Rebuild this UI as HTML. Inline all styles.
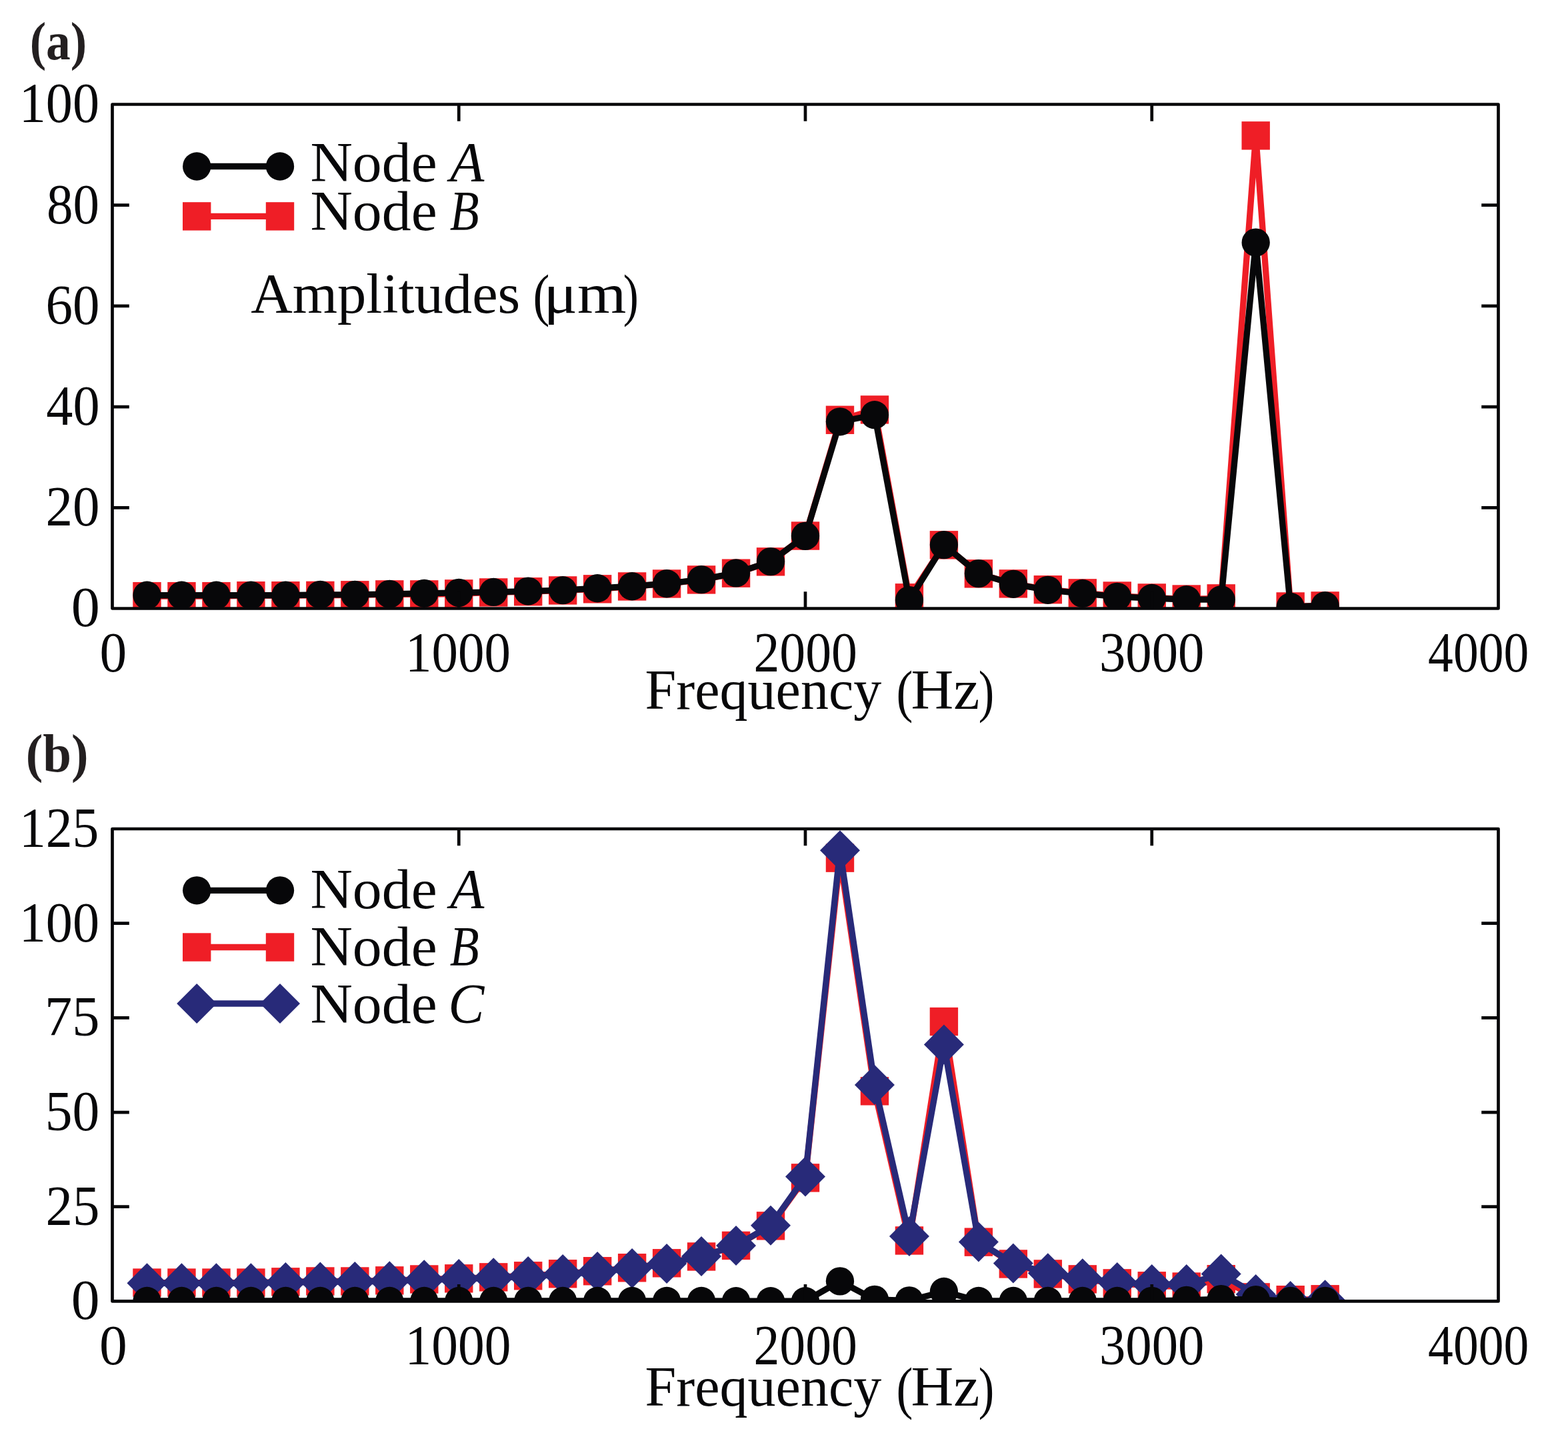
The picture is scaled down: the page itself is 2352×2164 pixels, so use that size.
<!DOCTYPE html>
<html><head><meta charset="utf-8"><title>Amplitudes vs Frequency</title>
<style>html,body{margin:0;padding:0;background:#fff;overflow:hidden;}svg{display:block;}</style></head>
<body>
<svg width="2352" height="2164" viewBox="0 0 2352 2164" font-family="'Liberation Serif', 'DejaVu Serif', serif">
<rect width="2352" height="2164" fill="#ffffff"/>
<defs>
<clipPath id="ca"><rect x="168.5" y="156.5" width="2079.0" height="756"/></clipPath>
<clipPath id="cb"><rect x="168.5" y="1243.0" width="2079.0" height="708.4"/></clipPath>
</defs>
<g clip-path="url(#ca)">
<polyline points="220.47,894.13 272.45,894.13 324.43,894.13 376.4,893.22 428.38,893.22 480.35,892.92 532.33,892.31 584.3,891.41 636.27,891.41 688.25,890.35 740.23,888.46 792.2,887.25 844.17,885.44 896.15,883.32 948.12,879.46 1000.1,875.46 1052.08,869.41 1104.05,859.66 1156.03,842.34 1208,803.56 1259.97,629.76 1311.95,614.41 1363.92,896.32 1415.9,817.32 1467.88,860.34 1519.85,875.38 1571.83,884.23 1623.8,889.37 1675.78,893.52 1727.75,896.47 1779.72,898.51 1831.7,897.38 1883.67,203.37 1935.65,909.48 1987.62,908.42" fill="none" stroke="#EF1E26" stroke-width="9.3" stroke-linejoin="round" stroke-linecap="butt"/>
<rect x="199.28" y="872.93" width="42.4" height="42.4" fill="#EF1E26"/>
<rect x="251.25" y="872.93" width="42.4" height="42.4" fill="#EF1E26"/>
<rect x="303.23" y="872.93" width="42.4" height="42.4" fill="#EF1E26"/>
<rect x="355.2" y="872.02" width="42.4" height="42.4" fill="#EF1E26"/>
<rect x="407.18" y="872.02" width="42.4" height="42.4" fill="#EF1E26"/>
<rect x="459.15" y="871.72" width="42.4" height="42.4" fill="#EF1E26"/>
<rect x="511.13" y="871.11" width="42.4" height="42.4" fill="#EF1E26"/>
<rect x="563.1" y="870.21" width="42.4" height="42.4" fill="#EF1E26"/>
<rect x="615.07" y="870.21" width="42.4" height="42.4" fill="#EF1E26"/>
<rect x="667.05" y="869.15" width="42.4" height="42.4" fill="#EF1E26"/>
<rect x="719.02" y="867.26" width="42.4" height="42.4" fill="#EF1E26"/>
<rect x="771" y="866.05" width="42.4" height="42.4" fill="#EF1E26"/>
<rect x="822.97" y="864.24" width="42.4" height="42.4" fill="#EF1E26"/>
<rect x="874.95" y="862.12" width="42.4" height="42.4" fill="#EF1E26"/>
<rect x="926.92" y="858.26" width="42.4" height="42.4" fill="#EF1E26"/>
<rect x="978.9" y="854.26" width="42.4" height="42.4" fill="#EF1E26"/>
<rect x="1030.88" y="848.21" width="42.4" height="42.4" fill="#EF1E26"/>
<rect x="1082.85" y="838.46" width="42.4" height="42.4" fill="#EF1E26"/>
<rect x="1134.83" y="821.14" width="42.4" height="42.4" fill="#EF1E26"/>
<rect x="1186.8" y="782.36" width="42.4" height="42.4" fill="#EF1E26"/>
<rect x="1238.77" y="608.56" width="42.4" height="42.4" fill="#EF1E26"/>
<rect x="1290.75" y="593.21" width="42.4" height="42.4" fill="#EF1E26"/>
<rect x="1342.72" y="875.12" width="42.4" height="42.4" fill="#EF1E26"/>
<rect x="1394.7" y="796.12" width="42.4" height="42.4" fill="#EF1E26"/>
<rect x="1446.67" y="839.14" width="42.4" height="42.4" fill="#EF1E26"/>
<rect x="1498.65" y="854.18" width="42.4" height="42.4" fill="#EF1E26"/>
<rect x="1550.62" y="863.03" width="42.4" height="42.4" fill="#EF1E26"/>
<rect x="1602.6" y="868.17" width="42.4" height="42.4" fill="#EF1E26"/>
<rect x="1654.58" y="872.32" width="42.4" height="42.4" fill="#EF1E26"/>
<rect x="1706.55" y="875.27" width="42.4" height="42.4" fill="#EF1E26"/>
<rect x="1758.52" y="877.31" width="42.4" height="42.4" fill="#EF1E26"/>
<rect x="1810.5" y="876.18" width="42.4" height="42.4" fill="#EF1E26"/>
<rect x="1862.47" y="182.17" width="42.4" height="42.4" fill="#EF1E26"/>
<rect x="1914.45" y="888.28" width="42.4" height="42.4" fill="#EF1E26"/>
<rect x="1966.42" y="887.22" width="42.4" height="42.4" fill="#EF1E26"/>
<polyline points="220.47,892.77 272.45,892.77 324.43,892.77 376.4,892.77 428.38,892.77 480.35,891.79 532.33,891.79 584.3,890.88 636.27,889.82 688.25,888.91 740.23,887.93 792.2,886.57 844.17,885.21 896.15,882.26 948.12,879.24 1000.1,875.23 1052.08,869.18 1104.05,859.43 1156.03,842.12 1208,803.86 1259.97,632.33 1311.95,622.2 1363.92,900.03 1415.9,817.09 1467.88,860.11 1519.85,875.83 1571.83,884.83 1623.8,889.97 1675.78,894.81 1727.75,897 1779.72,899.19 1831.7,899.19 1883.67,363.64 1935.65,910.01 1987.62,908.19" fill="none" stroke="#070709" stroke-width="9.3" stroke-linejoin="round" stroke-linecap="butt"/>
<circle cx="220.47" cy="892.77" r="21.15" fill="#070709"/>
<circle cx="272.45" cy="892.77" r="21.15" fill="#070709"/>
<circle cx="324.43" cy="892.77" r="21.15" fill="#070709"/>
<circle cx="376.4" cy="892.77" r="21.15" fill="#070709"/>
<circle cx="428.38" cy="892.77" r="21.15" fill="#070709"/>
<circle cx="480.35" cy="891.79" r="21.15" fill="#070709"/>
<circle cx="532.33" cy="891.79" r="21.15" fill="#070709"/>
<circle cx="584.3" cy="890.88" r="21.15" fill="#070709"/>
<circle cx="636.27" cy="889.82" r="21.15" fill="#070709"/>
<circle cx="688.25" cy="888.91" r="21.15" fill="#070709"/>
<circle cx="740.23" cy="887.93" r="21.15" fill="#070709"/>
<circle cx="792.2" cy="886.57" r="21.15" fill="#070709"/>
<circle cx="844.17" cy="885.21" r="21.15" fill="#070709"/>
<circle cx="896.15" cy="882.26" r="21.15" fill="#070709"/>
<circle cx="948.12" cy="879.24" r="21.15" fill="#070709"/>
<circle cx="1000.1" cy="875.23" r="21.15" fill="#070709"/>
<circle cx="1052.08" cy="869.18" r="21.15" fill="#070709"/>
<circle cx="1104.05" cy="859.43" r="21.15" fill="#070709"/>
<circle cx="1156.03" cy="842.12" r="21.15" fill="#070709"/>
<circle cx="1208" cy="803.86" r="21.15" fill="#070709"/>
<circle cx="1259.97" cy="632.33" r="21.15" fill="#070709"/>
<circle cx="1311.95" cy="622.2" r="21.15" fill="#070709"/>
<circle cx="1363.92" cy="900.03" r="21.15" fill="#070709"/>
<circle cx="1415.9" cy="817.09" r="21.15" fill="#070709"/>
<circle cx="1467.88" cy="860.11" r="21.15" fill="#070709"/>
<circle cx="1519.85" cy="875.83" r="21.15" fill="#070709"/>
<circle cx="1571.83" cy="884.83" r="21.15" fill="#070709"/>
<circle cx="1623.8" cy="889.97" r="21.15" fill="#070709"/>
<circle cx="1675.78" cy="894.81" r="21.15" fill="#070709"/>
<circle cx="1727.75" cy="897" r="21.15" fill="#070709"/>
<circle cx="1779.72" cy="899.19" r="21.15" fill="#070709"/>
<circle cx="1831.7" cy="899.19" r="21.15" fill="#070709"/>
<circle cx="1883.67" cy="363.64" r="21.15" fill="#070709"/>
<circle cx="1935.65" cy="910.01" r="21.15" fill="#070709"/>
<circle cx="1987.62" cy="908.19" r="21.15" fill="#070709"/>
</g>
<rect x="168.5" y="156.5" width="2079.0" height="756" fill="none" stroke="#070709" stroke-width="4.7" stroke-linejoin="round"/>
<path d="M688.25,912.5V887.2M688.25,156.5V181.8M1208,912.5V887.2M1208,156.5V181.8M1727.75,912.5V887.2M1727.75,156.5V181.8M168.5,761.3H193.8M2247.5,761.3H2222.2M168.5,610.1H193.8M2247.5,610.1H2222.2M168.5,458.9H193.8M2247.5,458.9H2222.2M168.5,307.7H193.8M2247.5,307.7H2222.2" stroke="#070709" stroke-width="4.7" fill="none"/>
<g clip-path="url(#cb)">
<polyline points="220.47,1923.57 272.45,1923.57 324.43,1923.57 376.4,1923.57 428.38,1922.33 480.35,1921.48 532.33,1921.48 584.3,1920.34 636.27,1918.47 688.25,1917.34 740.23,1915.36 792.2,1913.26 844.17,1910.26 896.15,1906.23 948.12,1901.25 1000.1,1894.27 1052.08,1884.47 1104.05,1867.92 1156.03,1838.34 1208,1766.37 1259.97,1286.64 1311.95,1636.3 1363.92,1860.44 1415.9,1532.03 1467.88,1862.65 1519.85,1895.46 1571.83,1910.43 1623.8,1918.36 1675.78,1924.37 1727.75,1928.28 1779.72,1929.52 1831.7,1918.19 1883.67,1945.39 1935.65,1949.19 1987.62,1948.28" fill="none" stroke="#EF1E26" stroke-width="9.3" stroke-linejoin="round" stroke-linecap="butt"/>
<rect x="199.28" y="1902.37" width="42.4" height="42.4" fill="#EF1E26"/>
<rect x="251.25" y="1902.37" width="42.4" height="42.4" fill="#EF1E26"/>
<rect x="303.23" y="1902.37" width="42.4" height="42.4" fill="#EF1E26"/>
<rect x="355.2" y="1902.37" width="42.4" height="42.4" fill="#EF1E26"/>
<rect x="407.18" y="1901.13" width="42.4" height="42.4" fill="#EF1E26"/>
<rect x="459.15" y="1900.28" width="42.4" height="42.4" fill="#EF1E26"/>
<rect x="511.13" y="1900.28" width="42.4" height="42.4" fill="#EF1E26"/>
<rect x="563.1" y="1899.14" width="42.4" height="42.4" fill="#EF1E26"/>
<rect x="615.07" y="1897.27" width="42.4" height="42.4" fill="#EF1E26"/>
<rect x="667.05" y="1896.14" width="42.4" height="42.4" fill="#EF1E26"/>
<rect x="719.02" y="1894.16" width="42.4" height="42.4" fill="#EF1E26"/>
<rect x="771" y="1892.06" width="42.4" height="42.4" fill="#EF1E26"/>
<rect x="822.97" y="1889.06" width="42.4" height="42.4" fill="#EF1E26"/>
<rect x="874.95" y="1885.03" width="42.4" height="42.4" fill="#EF1E26"/>
<rect x="926.92" y="1880.05" width="42.4" height="42.4" fill="#EF1E26"/>
<rect x="978.9" y="1873.07" width="42.4" height="42.4" fill="#EF1E26"/>
<rect x="1030.88" y="1863.27" width="42.4" height="42.4" fill="#EF1E26"/>
<rect x="1082.85" y="1846.72" width="42.4" height="42.4" fill="#EF1E26"/>
<rect x="1134.83" y="1817.14" width="42.4" height="42.4" fill="#EF1E26"/>
<rect x="1186.8" y="1745.17" width="42.4" height="42.4" fill="#EF1E26"/>
<rect x="1238.77" y="1265.44" width="42.4" height="42.4" fill="#EF1E26"/>
<rect x="1290.75" y="1615.1" width="42.4" height="42.4" fill="#EF1E26"/>
<rect x="1342.72" y="1839.24" width="42.4" height="42.4" fill="#EF1E26"/>
<rect x="1394.7" y="1510.83" width="42.4" height="42.4" fill="#EF1E26"/>
<rect x="1446.67" y="1841.45" width="42.4" height="42.4" fill="#EF1E26"/>
<rect x="1498.65" y="1874.26" width="42.4" height="42.4" fill="#EF1E26"/>
<rect x="1550.62" y="1889.23" width="42.4" height="42.4" fill="#EF1E26"/>
<rect x="1602.6" y="1897.16" width="42.4" height="42.4" fill="#EF1E26"/>
<rect x="1654.58" y="1903.17" width="42.4" height="42.4" fill="#EF1E26"/>
<rect x="1706.55" y="1907.08" width="42.4" height="42.4" fill="#EF1E26"/>
<rect x="1758.52" y="1908.32" width="42.4" height="42.4" fill="#EF1E26"/>
<rect x="1810.5" y="1896.99" width="42.4" height="42.4" fill="#EF1E26"/>
<rect x="1862.47" y="1924.19" width="42.4" height="42.4" fill="#EF1E26"/>
<rect x="1914.45" y="1927.99" width="42.4" height="42.4" fill="#EF1E26"/>
<rect x="1966.42" y="1927.08" width="42.4" height="42.4" fill="#EF1E26"/>
<polyline points="220.47,1924.31 272.45,1924.31 324.43,1924.31 376.4,1924.31 428.38,1923.12 480.35,1922.5 532.33,1921.99 584.3,1921.19 636.27,1919.32 688.25,1918.08 740.23,1916.26 792.2,1914.11 844.17,1911.11 896.15,1907.08 948.12,1902.1 1000.1,1895.12 1052.08,1883.9 1104.05,1868.09 1156.03,1837.72 1208,1764.5 1259.97,1275.3 1311.95,1626.9 1363.92,1853.98 1415.9,1566.6 1467.88,1862.42 1519.85,1894.5 1571.83,1909.18 1623.8,1917.23 1675.78,1922.89 1727.75,1926.12 1779.72,1926.12 1831.7,1910.48 1883.67,1940.92 1935.65,1951 1987.62,1949.3" fill="none" stroke="#282A79" stroke-width="9.3" stroke-linejoin="round" stroke-linecap="butt"/>
<polygon points="220.47,1894.31 250.47,1924.31 220.47,1954.31 190.47,1924.31" fill="#282A79"/>
<polygon points="272.45,1894.31 302.45,1924.31 272.45,1954.31 242.45,1924.31" fill="#282A79"/>
<polygon points="324.43,1894.31 354.43,1924.31 324.43,1954.31 294.43,1924.31" fill="#282A79"/>
<polygon points="376.4,1894.31 406.4,1924.31 376.4,1954.31 346.4,1924.31" fill="#282A79"/>
<polygon points="428.38,1893.12 458.38,1923.12 428.38,1953.12 398.38,1923.12" fill="#282A79"/>
<polygon points="480.35,1892.5 510.35,1922.5 480.35,1952.5 450.35,1922.5" fill="#282A79"/>
<polygon points="532.33,1891.99 562.33,1921.99 532.33,1951.99 502.33,1921.99" fill="#282A79"/>
<polygon points="584.3,1891.19 614.3,1921.19 584.3,1951.19 554.3,1921.19" fill="#282A79"/>
<polygon points="636.27,1889.32 666.27,1919.32 636.27,1949.32 606.27,1919.32" fill="#282A79"/>
<polygon points="688.25,1888.08 718.25,1918.08 688.25,1948.08 658.25,1918.08" fill="#282A79"/>
<polygon points="740.23,1886.26 770.23,1916.26 740.23,1946.26 710.23,1916.26" fill="#282A79"/>
<polygon points="792.2,1884.11 822.2,1914.11 792.2,1944.11 762.2,1914.11" fill="#282A79"/>
<polygon points="844.17,1881.11 874.17,1911.11 844.17,1941.11 814.17,1911.11" fill="#282A79"/>
<polygon points="896.15,1877.08 926.15,1907.08 896.15,1937.08 866.15,1907.08" fill="#282A79"/>
<polygon points="948.12,1872.1 978.12,1902.1 948.12,1932.1 918.12,1902.1" fill="#282A79"/>
<polygon points="1000.1,1865.12 1030.1,1895.12 1000.1,1925.12 970.1,1895.12" fill="#282A79"/>
<polygon points="1052.08,1853.9 1082.08,1883.9 1052.08,1913.9 1022.08,1883.9" fill="#282A79"/>
<polygon points="1104.05,1838.09 1134.05,1868.09 1104.05,1898.09 1074.05,1868.09" fill="#282A79"/>
<polygon points="1156.03,1807.72 1186.03,1837.72 1156.03,1867.72 1126.03,1837.72" fill="#282A79"/>
<polygon points="1208,1734.5 1238,1764.5 1208,1794.5 1178,1764.5" fill="#282A79"/>
<polygon points="1259.97,1245.3 1289.97,1275.3 1259.97,1305.3 1229.97,1275.3" fill="#282A79"/>
<polygon points="1311.95,1596.9 1341.95,1626.9 1311.95,1656.9 1281.95,1626.9" fill="#282A79"/>
<polygon points="1363.92,1823.98 1393.92,1853.98 1363.92,1883.98 1333.92,1853.98" fill="#282A79"/>
<polygon points="1415.9,1536.6 1445.9,1566.6 1415.9,1596.6 1385.9,1566.6" fill="#282A79"/>
<polygon points="1467.88,1832.42 1497.88,1862.42 1467.88,1892.42 1437.88,1862.42" fill="#282A79"/>
<polygon points="1519.85,1864.5 1549.85,1894.5 1519.85,1924.5 1489.85,1894.5" fill="#282A79"/>
<polygon points="1571.83,1879.18 1601.83,1909.18 1571.83,1939.18 1541.83,1909.18" fill="#282A79"/>
<polygon points="1623.8,1887.23 1653.8,1917.23 1623.8,1947.23 1593.8,1917.23" fill="#282A79"/>
<polygon points="1675.78,1892.89 1705.78,1922.89 1675.78,1952.89 1645.78,1922.89" fill="#282A79"/>
<polygon points="1727.75,1896.12 1757.75,1926.12 1727.75,1956.12 1697.75,1926.12" fill="#282A79"/>
<polygon points="1779.72,1896.12 1809.72,1926.12 1779.72,1956.12 1749.72,1926.12" fill="#282A79"/>
<polygon points="1831.7,1880.48 1861.7,1910.48 1831.7,1940.48 1801.7,1910.48" fill="#282A79"/>
<polygon points="1883.67,1910.92 1913.67,1940.92 1883.67,1970.92 1853.67,1940.92" fill="#282A79"/>
<polygon points="1935.65,1921 1965.65,1951 1935.65,1981 1905.65,1951" fill="#282A79"/>
<polygon points="1987.62,1919.3 2017.62,1949.3 1987.62,1979.3 1957.62,1949.3" fill="#282A79"/>
<polyline points="220.47,1951 272.45,1951 324.43,1951 376.4,1951 428.38,1951 480.35,1951 532.33,1951 584.3,1951 636.27,1951 688.25,1951 740.23,1951 792.2,1951 844.17,1951 896.15,1951 948.12,1951 1000.1,1951 1052.08,1951 1104.05,1951.17 1156.03,1951.17 1208,1951.17 1259.97,1921.36 1311.95,1948.85 1363.92,1950.32 1415.9,1937.01 1467.88,1950.95 1519.85,1950.95 1571.83,1950.95 1623.8,1950.95 1675.78,1950.95 1727.75,1950.83 1779.72,1949.87 1831.7,1948.11 1883.67,1949.13 1935.65,1950.83 1987.62,1950.83" fill="none" stroke="#070709" stroke-width="9.3" stroke-linejoin="round" stroke-linecap="butt"/>
<circle cx="220.47" cy="1951" r="21.15" fill="#070709"/>
<circle cx="272.45" cy="1951" r="21.15" fill="#070709"/>
<circle cx="324.43" cy="1951" r="21.15" fill="#070709"/>
<circle cx="376.4" cy="1951" r="21.15" fill="#070709"/>
<circle cx="428.38" cy="1951" r="21.15" fill="#070709"/>
<circle cx="480.35" cy="1951" r="21.15" fill="#070709"/>
<circle cx="532.33" cy="1951" r="21.15" fill="#070709"/>
<circle cx="584.3" cy="1951" r="21.15" fill="#070709"/>
<circle cx="636.27" cy="1951" r="21.15" fill="#070709"/>
<circle cx="688.25" cy="1951" r="21.15" fill="#070709"/>
<circle cx="740.23" cy="1951" r="21.15" fill="#070709"/>
<circle cx="792.2" cy="1951" r="21.15" fill="#070709"/>
<circle cx="844.17" cy="1951" r="21.15" fill="#070709"/>
<circle cx="896.15" cy="1951" r="21.15" fill="#070709"/>
<circle cx="948.12" cy="1951" r="21.15" fill="#070709"/>
<circle cx="1000.1" cy="1951" r="21.15" fill="#070709"/>
<circle cx="1052.08" cy="1951" r="21.15" fill="#070709"/>
<circle cx="1104.05" cy="1951.17" r="21.15" fill="#070709"/>
<circle cx="1156.03" cy="1951.17" r="21.15" fill="#070709"/>
<circle cx="1208" cy="1951.17" r="21.15" fill="#070709"/>
<circle cx="1259.97" cy="1921.36" r="21.15" fill="#070709"/>
<circle cx="1311.95" cy="1948.85" r="21.15" fill="#070709"/>
<circle cx="1363.92" cy="1950.32" r="21.15" fill="#070709"/>
<circle cx="1415.9" cy="1937.01" r="21.15" fill="#070709"/>
<circle cx="1467.88" cy="1950.95" r="21.15" fill="#070709"/>
<circle cx="1519.85" cy="1950.95" r="21.15" fill="#070709"/>
<circle cx="1571.83" cy="1950.95" r="21.15" fill="#070709"/>
<circle cx="1623.8" cy="1950.95" r="21.15" fill="#070709"/>
<circle cx="1675.78" cy="1950.95" r="21.15" fill="#070709"/>
<circle cx="1727.75" cy="1950.83" r="21.15" fill="#070709"/>
<circle cx="1779.72" cy="1949.87" r="21.15" fill="#070709"/>
<circle cx="1831.7" cy="1948.11" r="21.15" fill="#070709"/>
<circle cx="1883.67" cy="1949.13" r="21.15" fill="#070709"/>
<circle cx="1935.65" cy="1950.83" r="21.15" fill="#070709"/>
<circle cx="1987.62" cy="1950.83" r="21.15" fill="#070709"/>
</g>
<rect x="168.5" y="1243.0" width="2079.0" height="708.4" fill="none" stroke="#070709" stroke-width="4.7" stroke-linejoin="round"/>
<path d="M688.25,1951.4V1926.1M688.25,1243V1268.3M1208,1951.4V1926.1M1208,1243V1268.3M1727.75,1951.4V1926.1M1727.75,1243V1268.3M168.5,1809.72H193.8M2247.5,1809.72H2222.2M168.5,1668.04H193.8M2247.5,1668.04H2222.2M168.5,1526.36H193.8M2247.5,1526.36H2222.2M168.5,1384.68H193.8M2247.5,1384.68H2222.2" stroke="#070709" stroke-width="4.7" fill="none"/>
<line x1="295.2" y1="249.5" x2="420" y2="249.5" stroke="#070709" stroke-width="9.3"/>
<circle cx="295.2" cy="249.5" r="21.15" fill="#070709"/>
<circle cx="420" cy="249.5" r="21.15" fill="#070709"/>
<line x1="295.2" y1="324.4" x2="420" y2="324.4" stroke="#EF1E26" stroke-width="9.3"/>
<rect x="274" y="303.2" width="42.4" height="42.4" fill="#EF1E26"/>
<rect x="398.8" y="303.2" width="42.4" height="42.4" fill="#EF1E26"/>
<line x1="295.2" y1="1335.3" x2="420" y2="1335.3" stroke="#070709" stroke-width="9.3"/>
<circle cx="295.2" cy="1335.3" r="21.15" fill="#070709"/>
<circle cx="420" cy="1335.3" r="21.15" fill="#070709"/>
<line x1="295.2" y1="1420.5" x2="420" y2="1420.5" stroke="#EF1E26" stroke-width="9.3"/>
<rect x="274" y="1399.3" width="42.4" height="42.4" fill="#EF1E26"/>
<rect x="398.8" y="1399.3" width="42.4" height="42.4" fill="#EF1E26"/>
<line x1="295.2" y1="1505" x2="420" y2="1505" stroke="#282A79" stroke-width="9.3"/>
<polygon points="295.2,1475 325.2,1505 295.2,1535 265.2,1505" fill="#282A79"/>
<polygon points="420,1475 450,1505 420,1535 390,1505" fill="#282A79"/>
<text x="44.67" y="88.6" font-size="80.5" font-weight="bold" textLength="85.66" lengthAdjust="spacingAndGlyphs" fill="#231F20">(a)</text>
<text x="38.63" y="1157.4" font-size="80.5" font-weight="bold" textLength="93.85" lengthAdjust="spacingAndGlyphs" fill="#231F20">(b)</text>
<text x="28.75" y="183.4" font-size="84" textLength="120.3" lengthAdjust="spacingAndGlyphs" fill="#070709">100</text>
<text x="69.89" y="334.6" font-size="84" textLength="79.02" lengthAdjust="spacingAndGlyphs" fill="#070709">80</text>
<text x="68.62" y="485.8" font-size="84" textLength="80.96" lengthAdjust="spacingAndGlyphs" fill="#070709">60</text>
<text x="69.33" y="637" font-size="84" textLength="80.22" lengthAdjust="spacingAndGlyphs" fill="#070709">40</text>
<text x="68.54" y="788.2" font-size="84" textLength="81.05" lengthAdjust="spacingAndGlyphs" fill="#070709">20</text>
<text x="106.72" y="939.4" font-size="84" textLength="43.06" lengthAdjust="spacingAndGlyphs" fill="#070709">0</text>
<text x="29" y="1270" font-size="84" textLength="119.41" lengthAdjust="spacingAndGlyphs" fill="#070709">125</text>
<text x="28.75" y="1411.68" font-size="84" textLength="120.3" lengthAdjust="spacingAndGlyphs" fill="#070709">100</text>
<text x="67.06" y="1553.36" font-size="84" textLength="82.46" lengthAdjust="spacingAndGlyphs" fill="#070709">75</text>
<text x="67.76" y="1695.04" font-size="84" textLength="81.65" lengthAdjust="spacingAndGlyphs" fill="#070709">50</text>
<text x="68.54" y="1836.72" font-size="84" textLength="80.92" lengthAdjust="spacingAndGlyphs" fill="#070709">25</text>
<text x="106.74" y="1978.4" font-size="84" textLength="42.82" lengthAdjust="spacingAndGlyphs" fill="#070709">0</text>
<text x="149.6" y="1007" font-size="84" textLength="40.7" lengthAdjust="spacingAndGlyphs" fill="#070709">0</text>
<text x="149.12" y="2046.2" font-size="84" textLength="41.76" lengthAdjust="spacingAndGlyphs" fill="#070709">0</text>
<text x="607.95" y="1007" font-size="84" textLength="158.06" lengthAdjust="spacingAndGlyphs" fill="#070709">1000</text>
<text x="607.51" y="2046.2" font-size="84" textLength="159.02" lengthAdjust="spacingAndGlyphs" fill="#070709">1000</text>
<text x="1130.49" y="1007" font-size="84" textLength="155.37" lengthAdjust="spacingAndGlyphs" fill="#070709">2000</text>
<text x="1130.49" y="2046.2" font-size="84" textLength="155.37" lengthAdjust="spacingAndGlyphs" fill="#070709">2000</text>
<text x="1649.04" y="1007" font-size="84" textLength="157.26" lengthAdjust="spacingAndGlyphs" fill="#070709">3000</text>
<text x="1649.04" y="2046.2" font-size="84" textLength="157.26" lengthAdjust="spacingAndGlyphs" fill="#070709">3000</text>
<text x="2142.12" y="1007" font-size="84" textLength="151.15" lengthAdjust="spacingAndGlyphs" fill="#070709">4000</text>
<text x="2142.12" y="2046.2" font-size="84" textLength="151.15" lengthAdjust="spacingAndGlyphs" fill="#070709">4000</text>
<text x="967.58" y="1062.9" font-size="84" textLength="354.65" lengthAdjust="spacingAndGlyphs" fill="#070709">Frequency</text>
<text x="1366.56" y="1062.9" font-size="84" textLength="102.9" lengthAdjust="spacingAndGlyphs" fill="#070709">Hz</text>
<text x="1344.61" y="1065.7" font-size="86.3" textLength="24.89" lengthAdjust="spacingAndGlyphs" fill="#070709">(</text>
<text x="1467.73" y="1065.7" font-size="86.3" textLength="23.47" lengthAdjust="spacingAndGlyphs" fill="#070709">)</text>
<text x="1366.56" y="2108" font-size="84" textLength="102.9" lengthAdjust="spacingAndGlyphs" fill="#070709">Hz</text>
<text x="1344.61" y="2110.8" font-size="86.3" textLength="24.89" lengthAdjust="spacingAndGlyphs" fill="#070709">(</text>
<text x="1467.73" y="2110.8" font-size="86.3" textLength="23.47" lengthAdjust="spacingAndGlyphs" fill="#070709">)</text>
<text x="967.58" y="2108" font-size="84" textLength="354.65" lengthAdjust="spacingAndGlyphs" fill="#070709">Frequency</text>
<text x="376.15" y="468.7" font-size="84" textLength="404.18" lengthAdjust="spacingAndGlyphs" fill="#070709">Amplitudes</text>
<text x="815.46" y="468.7" font-size="84" textLength="123.92" lengthAdjust="spacingAndGlyphs" fill="#070709">μm</text>
<text x="799.51" y="471.5" font-size="86.3" textLength="24.89" lengthAdjust="spacingAndGlyphs" fill="#070709">(</text>
<text x="934.77" y="471.5" font-size="86.3" textLength="23.08" lengthAdjust="spacingAndGlyphs" fill="#070709">)</text>
<text x="465.47" y="271.7" font-size="84" textLength="190.17" lengthAdjust="spacingAndGlyphs" fill="#070709">Node</text>
<text x="465.47" y="344.9" font-size="84" textLength="190.17" lengthAdjust="spacingAndGlyphs" fill="#070709">Node</text>
<text x="465.47" y="1362.2" font-size="84" textLength="190.17" lengthAdjust="spacingAndGlyphs" fill="#070709">Node</text>
<text x="465.47" y="1447.7" font-size="84" textLength="190.17" lengthAdjust="spacingAndGlyphs" fill="#070709">Node</text>
<text x="465.47" y="1534.2" font-size="84" textLength="190.17" lengthAdjust="spacingAndGlyphs" fill="#070709">Node</text>
<text x="675.09" y="271.7" font-size="84" textLength="51.32" lengthAdjust="spacingAndGlyphs" fill="#070709" font-style="italic">A</text>
<text x="674.63" y="344.9" font-size="84" textLength="43.84" lengthAdjust="spacingAndGlyphs" fill="#070709" font-style="italic">B</text>
<text x="675.09" y="1362.2" font-size="84" textLength="51.32" lengthAdjust="spacingAndGlyphs" fill="#070709" font-style="italic">A</text>
<text x="674.63" y="1447.7" font-size="84" textLength="43.84" lengthAdjust="spacingAndGlyphs" fill="#070709" font-style="italic">B</text>
<text x="672.51" y="1534.2" font-size="84" textLength="53.84" lengthAdjust="spacingAndGlyphs" fill="#070709" font-style="italic">C</text>
</svg>
</body></html>
